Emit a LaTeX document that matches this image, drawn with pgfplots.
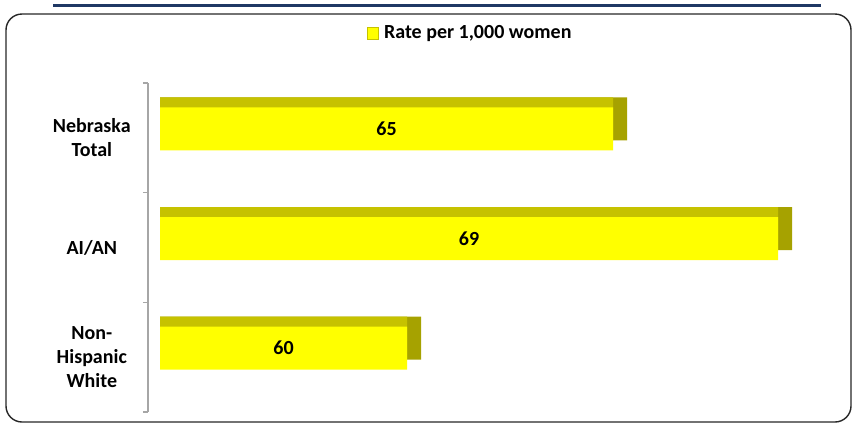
\documentclass[border=0pt]{standalone}
\usepackage{pgfplots}
\pgfplotsset{compat=1.18}
\usepackage{fontspec}
\setmainfont{Carlito}
\definecolor{baryellow}{RGB}{255,255,0}
\definecolor{bartop}{RGB}{198,194,0}
\definecolor{barside}{RGB}{166,162,0}
\definecolor{navyline}{RGB}{31,56,100}
\begin{document}
\begin{tikzpicture}
\useasboundingbox (0,0) rectangle (856pt,-424pt);
\draw[navyline, line width=3pt] (53pt,-5pt) -- (821pt,-5pt);
\draw[black!85, line width=1.4pt, rounded corners=16pt] (6pt,-14pt) rectangle (851pt,-422pt);
\begin{axis}[
  at={(160pt,-412pt)}, anchor=south west,
  scale only axis, width=686pt, height=329pt,
  xmin=54, xmax=70.65, ymin=-0.5, ymax=2.5,
  axis x line=none,
  axis y line*=left,
  y axis line style={draw=gray!70, line width=1.3pt, xshift=-12pt, -},
  xtick=\empty,
  ytick={0,1,2},
  yticklabels={{Non-\\Hispanic\\White},{AI/AN},{Nebraska\\Total}},
  major tick length=0pt,
  minor ytick={-0.5,0.5,1.5,2.5},
  minor tick length=5pt,
  tick align=outside,
  minor tick style={draw=gray!70, line width=1.3pt, xshift=-12pt},
  yticklabel style={align=center, text width=100pt, inner sep=0pt, xshift=-18pt, font=\fontsize{20}{24}\selectfont\bfseries},
  legend style={at={(0.452,1.152)}, anchor=center, draw=none, fill=none, inner sep=0pt, font=\fontsize{20}{24}\selectfont\bfseries},
  clip=true,
]
\addplot[xbar, bar width=43pt, bar shift=19pt, fill=barside, draw=none, forget plot] coordinates {(65.34,2) (69.34,1) (60.34,0)};
\addplot[xbar, bar width=43pt, bar shift=19pt, fill=bartop, draw=none, forget plot] coordinates {(65,2) (69,1) (60,0)};
\addplot[xbar, bar width=43pt, bar shift=9pt, fill=baryellow, draw=none,
  legend image code/.code={\draw[fill=baryellow, draw=bartop, line width=0.8pt] (0pt,-6pt) rectangle (11pt,6pt); \path (15pt,0pt);}] coordinates {(65,2) (69,1) (60,0)};
\addlegendentry{Rate per 1,000 women}
\addplot[draw=none, mark=none, forget plot, nodes near coords, point meta=explicit symbolic,
  every node near coord/.append style={anchor=center, yshift=9pt, font=\fontsize{20}{24}\selectfont\bfseries}]
  coordinates {(59.5,2)[65] (61.5,1)[69] (57,0)[60]};
\end{axis}
\end{tikzpicture}
\end{document}
